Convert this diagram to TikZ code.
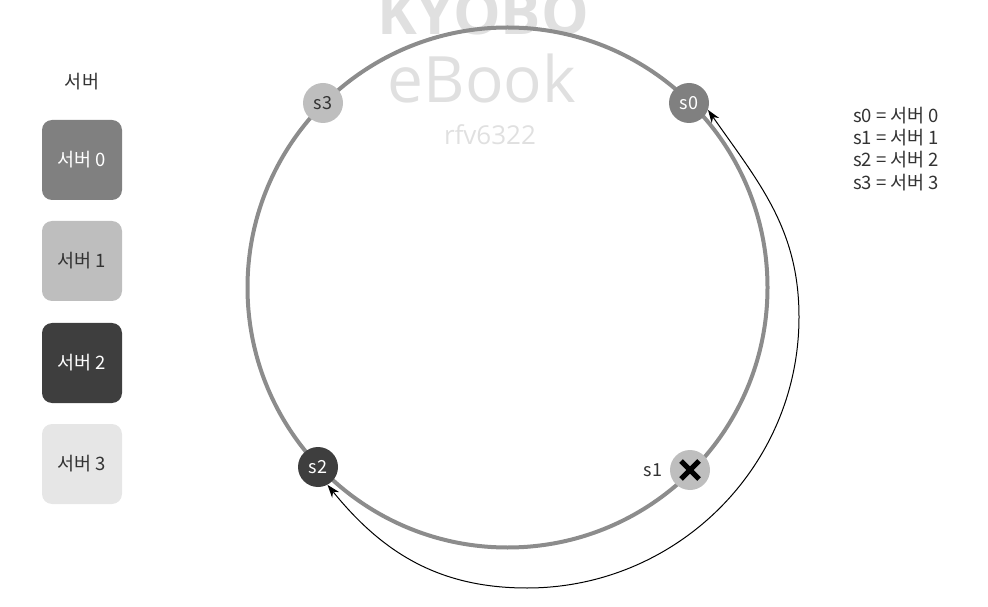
\documentclass[tikz,border=0pt]{standalone}
\usepackage{fontspec}
\setmainfont{Noto Sans CJK KR}
\newfontfamily\wmfont{Open Sans}
\usetikzlibrary{arrows.meta}
\definecolor{ringgray}{HTML}{8C8C8C}
\definecolor{cA}{HTML}{808080}
\definecolor{cB}{HTML}{BEBEBE}
\definecolor{cC}{HTML}{3E3E3E}
\definecolor{cD}{HTML}{E6E6E6}
\definecolor{txtdark}{HTML}{333333}
\definecolor{wm}{HTML}{E0E0E0}
\begin{document}
\begin{tikzpicture}[x=1pt,y=1pt,
  lbox/.style={rounded corners=10pt,minimum width=80pt,minimum height=80pt,inner sep=0pt,font=\fontsize{18.5}{22}\selectfont},
  srv/.style={circle,minimum size=40pt,inner sep=0pt,font=\fontsize{18}{20}\selectfont},
  ltext/.style={anchor=west,inner sep=0pt,font=\fontsize{18.5}{22}\selectfont,text=txtdark},
  hop/.style={black,line width=1pt,{Stealth[length=13pt,width=9pt]}-{Stealth[length=13pt,width=9pt]}}
]
\useasboundingbox (0,0) rectangle (988,606);
% watermark
\node[text=wm,inner sep=0pt,anchor=base,font=\wmfont\bfseries\fontsize{60}{60}\selectfont] (wk) at (483,571) {KYOBO};
\node[text=wm,inner sep=0pt,anchor=base,font=\wmfont\fontsize{64}{64}\selectfont] (we) at (482,503) {eBook};
\node[text=wm,inner sep=0pt,anchor=base,font=\wmfont\fontsize{26}{26}\selectfont] (wr) at (490,461) {rfv6322};
% ring
\coordinate (ctr) at (507.5,318.5);
\draw[ringgray,line width=4pt] (ctr) circle[radius=260];
% legend boxes
\node[inner sep=0pt,font=\fontsize{18.5}{22}\selectfont,text=txtdark] (hdr) at (82,524) {서버};
\node[lbox,fill=cA,text=white] (b0) at (82,446) {서버 0};
\node[lbox,fill=cB,text=txtdark] (b1) at (82,345) {서버 1};
\node[lbox,fill=cC,text=white] (b2) at (82,243) {서버 2};
\node[lbox,fill=cD,text=txtdark] (b3) at (82,142) {서버 3};
% servers on ring
\node[srv,fill=cA,text=white] (s0) at (689,503) {s0};
\node[srv,fill=cB,text=txtdark] (s3) at (323,503) {s3};
\node[srv,fill=cC,text=white] (s2) at (318,139) {s2};
\node[srv,fill=cB] (s1) at (690,136) {};
\draw[black,line width=5pt] ([shift={(-9,-9)}]s1.center) -- ([shift={(9,9)}]s1.center);
\draw[black,line width=5pt] ([shift={(-9,9)}]s1.center) -- ([shift={(9,-9)}]s1.center);
\node[inner sep=0pt,font=\fontsize{18}{20}\selectfont,text=txtdark] (s1lbl) at (653,136) {s1};
% reassignment arc
\coordinate (rgt) at (799,289);
\coordinate (bot) at (527,18);
\draw[hop] (s0.-20) to[out=-55,in=90] (rgt) to[out=-90,in=0] (bot) to[out=180,in=-51] (s2.-62);
% legend text
\node[ltext] (l0) at (853,490) {s0 = 서버 0};
\node[ltext] (l1) at (853,468) {s1 = 서버 1};
\node[ltext] (l2) at (853,446) {s2 = 서버 2};
\node[ltext] (l3) at (853,423) {s3 = 서버 3};
\end{tikzpicture}
\end{document}
